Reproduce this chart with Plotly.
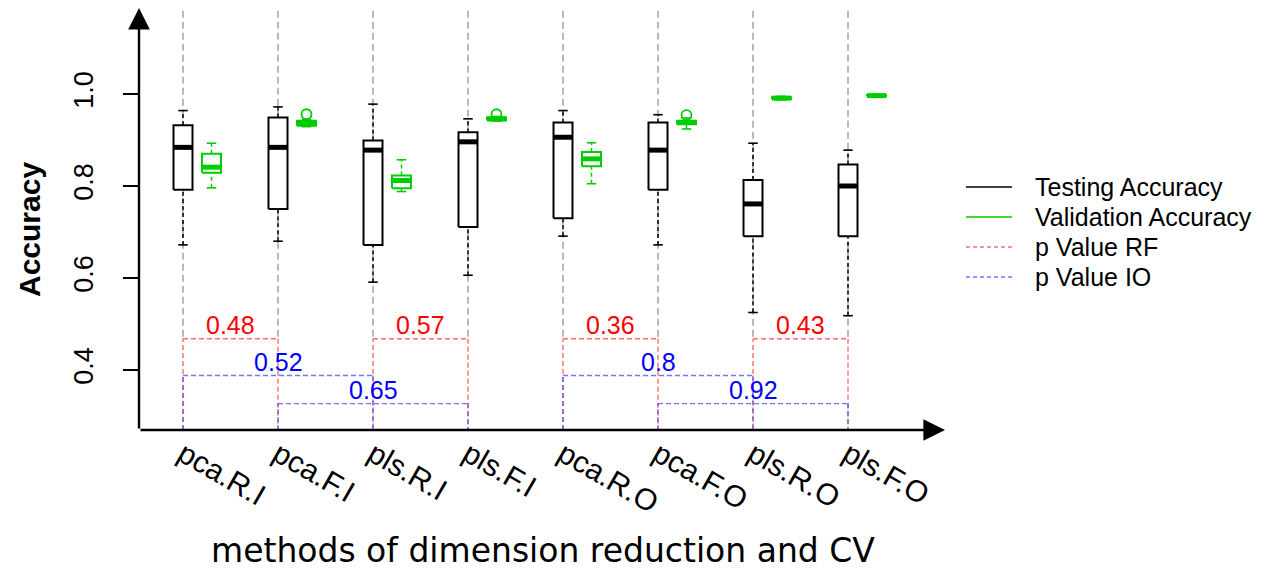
import plotly.graph_objects as go

# ---- data -------------------------------------------------------------
categories = ["pca.R.I", "pca.F.I", "pls.R.I", "pls.F.I",
              "pca.R.O", "pca.F.O", "pls.R.O", "pls.F.O"]

# testing accuracy box statistics
test_low = [0.672, 0.680, 0.591, 0.606, 0.691, 0.672, 0.525, 0.518]
test_q1 = [0.792, 0.750, 0.672, 0.711, 0.730, 0.792, 0.691, 0.691]
test_med = [0.884, 0.884, 0.878, 0.896, 0.906, 0.878, 0.761, 0.800]
test_q3 = [0.932, 0.949, 0.899, 0.917, 0.938, 0.938, 0.813, 0.847]
test_high = [0.964, 0.972, 0.978, 0.946, 0.964, 0.955, 0.893, 0.878]

# validation accuracy box statistics
val_low = [0.796, 0.929, 0.788, 0.941, 0.805, 0.924, 0.987, 0.994]
val_q1 = [0.829, 0.931, 0.795, 0.943, 0.843, 0.934, 0.989, 0.995]
val_med = [0.841, 0.936, 0.812, 0.946, 0.859, 0.938, 0.991, 0.9965]
val_q3 = [0.870, 0.942, 0.823, 0.949, 0.874, 0.942, 0.993, 0.998]
val_high = [0.893, 0.944, 0.857, 0.951, 0.894, 0.948, 0.995, 0.999]
val_out = [None, 0.956, None, 0.956, None, 0.954, None, None]

# p-value comparisons: (first group, second group, p value)
p_rf = [(1, 2, "0.48"), (3, 4, "0.57"), (5, 6, "0.36"), (7, 8, "0.43")]
p_io = [(1, 3, "0.52"), (2, 4, "0.65"), (5, 7, "0.8"), (6, 8, "0.92")]

# ---- styling ----------------------------------------------------------
W, H = 1267, 569
L, R, T, B = 139, 322, 8, 139
PW, PH = W - L - R, H - T - B
X_RANGE = [1 - 44 / 95, 1 + 762 / 95]
Y_RANGE = [1 - 336 / 460, 1 + 86 / 460]

BLACK = "#000000"
GREEN = "#00CD00"
RED_LINE = "rgba(255,60,60,0.75)"
BLUE_LINE = "rgba(70,70,255,0.75)"
GRAY = "#a8a8a8"
SANS = "Liberation Sans, Arial, sans-serif"

BOX_W = 0.2
VAL_OFFSET = 0.3
RF_LEVEL = 0.468
IO_LEVELS = [0.388, 0.327]
TOP = Y_RANGE[1] - 0.006
BOTTOM = Y_RANGE[0]

xs = list(range(1, len(categories) + 1))

fig = go.Figure()


def seg_trace(segs, color, width, dash=None):
    xx, yy = [], []
    for (x0, y0, x1, y1) in segs:
        xx += [x0, x1, None]
        yy += [y0, y1, None]
    fig.add_trace(go.Scatter(x=xx, y=yy, mode="lines", hoverinfo="skip",
                             showlegend=False,
                             line=dict(color=color, width=width, dash=dash)))


# background dashed guides at each method
seg_trace([(x, TOP, x, RF_LEVEL) for x in xs], GRAY, 1.6, "7px,4px")


def draw_boxes(centers, lo, q1, med, q3, hi, color):
    half = BOX_W / 2
    # whiskers
    segs = []
    for c, a, b, d, e in zip(centers, lo, q1, q3, hi):
        segs.append((c, a, c, b))
        segs.append((c, d, c, e))
    seg_trace(segs, color, 1.5, "4px,3px")
    # boxes
    bx, by = [], []
    for c, b, d in zip(centers, q1, q3):
        bx += [c - half, c + half, c + half, c - half, c - half, None]
        by += [b, b, d, d, b, None]
    fig.add_trace(go.Scatter(x=bx, y=by, mode="lines", fill="toself",
                             fillcolor="white", hoverinfo="skip",
                             showlegend=False,
                             line=dict(color=color, width=2)))
    # medians
    seg_trace([(c - half, m, c + half, m) for c, m in zip(centers, med)],
              color, 5)
    # staples
    st = half / 2
    segs = []
    for c, a, e in zip(centers, lo, hi):
        segs.append((c - st, a, c + st, a))
        segs.append((c - st, e, c + st, e))
    seg_trace(segs, color, 1.6)


draw_boxes(xs, test_low, test_q1, test_med, test_q3, test_high, BLACK)
val_x = [x + VAL_OFFSET for x in xs]
draw_boxes(val_x, val_low, val_q1, val_med, val_q3, val_high, GREEN)

# validation outliers
ox = [x for x, o in zip(val_x, val_out) if o is not None]
oy = [o for o in val_out if o is not None]
fig.add_trace(go.Scatter(x=ox, y=oy, mode="markers", hoverinfo="skip",
                         showlegend=False,
                         marker=dict(symbol="circle-open", size=10,
                                     color=GREEN, line=dict(width=1.8))))

# p-value brackets
annotations = []


def bracket(a, b, level, label, line_color, text_color):
    seg_trace([(a, BOTTOM, a, level), (a, level, b, level),
               (b, level, b, BOTTOM)], line_color, 1.4, "5px,3px")
    annotations.append(dict(x=(a + b) / 2, y=level, xref="x", yref="y",
                            text=label, showarrow=False, yanchor="middle",
                            xanchor="center", yshift=14,
                            font=dict(family=SANS, size=25,
                                      color=text_color)))


for a, b, lab in p_rf:
    bracket(a, b, RF_LEVEL, lab, RED_LINE, "#ff0000")
for i, (a, b, lab) in enumerate(p_io):
    bracket(a, b, IO_LEVELS[i % 2], lab, BLUE_LINE, "#0000ff")


def px_x(p):
    return (p - L) / PW


def px_y(p):
    return (H - B - p) / PH


# axis arrows
annotations.append(dict(x=0, y=1, xref="paper", yref="paper", text="",
                        showarrow=True, ax=0, ay=PH, arrowhead=2,
                        arrowsize=1.8, arrowwidth=2.4, arrowcolor=BLACK))
annotations.append(dict(x=1, y=0, xref="paper", yref="paper", text="",
                        showarrow=True, ax=-PW, ay=0, arrowhead=2,
                        arrowsize=1.8, arrowwidth=2.4, arrowcolor=BLACK))

# axis titles
annotations.append(dict(x=px_x(29), y=px_y(229), xref="paper", yref="paper",
                        xanchor="center", yanchor="middle",
                        text="<b>Accuracy</b>", showarrow=False,
                        textangle=-90,
                        font=dict(family=SANS, size=30, color=BLACK)))
annotations.append(dict(x=px_x(543), y=px_y(550), xref="paper",
                        yref="paper", xanchor="center", yanchor="middle",
                        text="methods of dimension reduction and CV",
                        showarrow=False,
                        font=dict(family="DejaVu Sans", size=33,
                                  color=BLACK)))

# legend
legend_items = [("Testing Accuracy", BLACK, None),
                ("Validation Accuracy", GREEN, None),
                ("p Value RF", RED_LINE, "4px,3px"),
                ("p Value IO", BLUE_LINE, "4px,3px")]
shapes = []
for i, (name, col, dash) in enumerate(legend_items):
    yy = px_y(187 + i * 30)
    shapes.append(dict(type="line", xref="paper", yref="paper",
                       x0=px_x(966), x1=px_x(1012), y0=yy, y1=yy,
                       line=dict(color=col, width=1.5, dash=dash)))
    annotations.append(dict(x=px_x(1033), y=yy, xref="paper", yref="paper",
                            text=name, showarrow=False, xanchor="left",
                            yanchor="middle",
                            font=dict(family=SANS, size=25, color=BLACK)))

fig.update_layout(
    width=W, height=H,
    margin=dict(l=L, r=R, t=T, b=B),
    paper_bgcolor="white", plot_bgcolor="white",
    showlegend=False,
    shapes=shapes,
    annotations=annotations,
    xaxis=dict(range=X_RANGE, tickvals=xs, ticktext=categories,
               tickangle=30, ticks="", showgrid=False, zeroline=False,
               showline=False,
               tickfont=dict(family=SANS, size=30, color=BLACK)),
    yaxis=dict(range=Y_RANGE, tickvals=[0.4, 0.6, 0.8, 1.0],
               ticktext=["0.4", "0.6", "0.8", "1.0"],
               ticks="outside", ticklen=15, tickwidth=2, tickcolor=BLACK,
               tickangle=-90, showgrid=False, zeroline=False,
               showline=False, ticklabelstandoff=19,
               tickfont=dict(family=SANS, size=27, color=BLACK)),
)

fig.write_html("out.html")
